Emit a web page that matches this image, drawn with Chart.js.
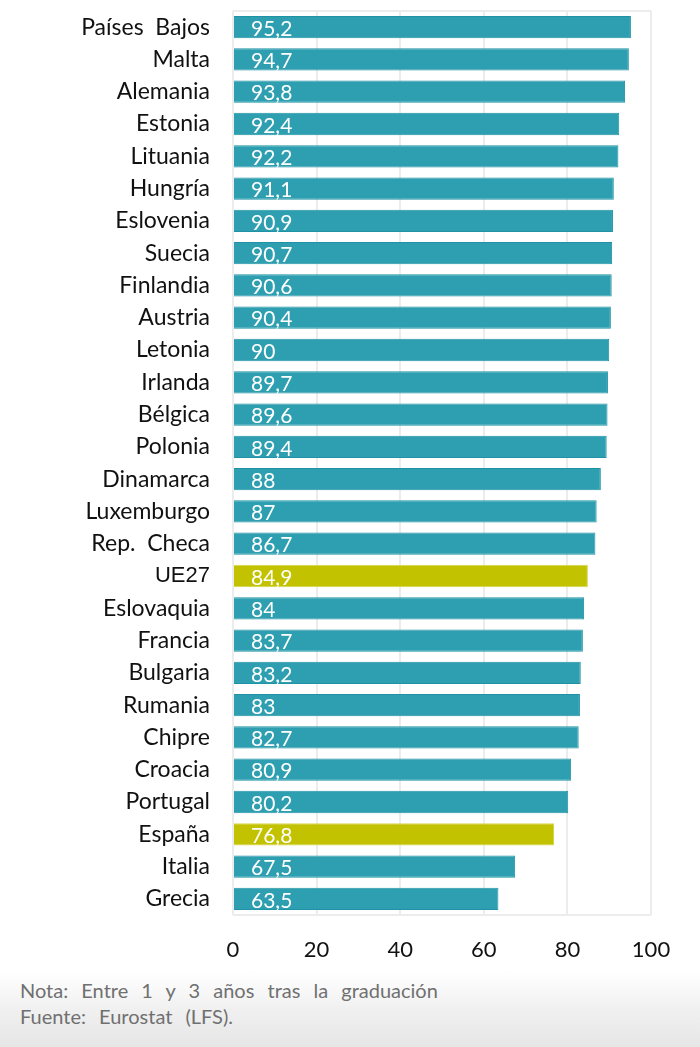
<!DOCTYPE html>
<html>
<head>
<meta charset="utf-8">
<script src="https://cdn.jsdelivr.net/npm/chart.js@4/dist/chart.umd.min.js"></script>
<style>
  html, body { margin: 0; padding: 0; width: 700px; height: 1047px; overflow: hidden;
    background: linear-gradient(to bottom, #ffffff 0px, #ffffff 972px, #f0f0f0 1010px, #e6e6e6 1047px); }
  #wrap { position: absolute; left: 0; top: 0; width: 700px; height: 972px; background: #fff; }
  #foot { position: absolute; left: 20px; top: 977px; font-family: "Lato", "Open Sans", sans-serif;
    font-size: 20px; line-height: 26px; color: #707070; word-spacing: 8px; }
</style>
</head>
<body>
<div id="wrap"><canvas id="c"></canvas></div>
<div id="foot">Nota: Entre 1 y 3 años tras la graduación<br>Fuente: Eurostat (LFS).</div>
<script>
const categories = ["Países  Bajos","Malta","Alemania","Estonia","Lituania","Hungría","Eslovenia","Suecia","Finlandia","Austria","Letonia","Irlanda","Bélgica","Polonia","Dinamarca","Luxemburgo","Rep.  Checa","UE27","Eslovaquia","Francia","Bulgaria","Rumania","Chipre","Croacia","Portugal","España","Italia","Grecia"];
const values = [95.2,94.7,93.8,92.4,92.2,91.1,90.9,90.7,90.6,90.4,90,89.7,89.6,89.4,88,87,86.7,84.9,84,83.7,83.2,83,82.7,80.9,80.2,76.8,67.5,63.5];
const highlighted = ["UE27","España"];
const xTicks = [0,20,40,60,80,100];

const fills = categories.map(c => highlighted.includes(c) ? "#c2c200" : "#2e9fb0");
const borders = categories.map(c => highlighted.includes(c) ? "#d6d64a" : "#1f93a5");

const valueLabels = {
  id: "valueLabels",
  afterDatasetsDraw(chart) {
    const ctx = chart.ctx;
    const meta = chart.getDatasetMeta(0);
    ctx.save();
    ctx.fillStyle = "#ffffff";
    ctx.font = "21px Lato, 'Open Sans', sans-serif";
    ctx.textAlign = "left";
    ctx.textBaseline = "middle";
    meta.data.forEach((bar, i) => {
      const txt = String(values[i]).replace(".", ",");
      ctx.fillText(txt, bar.base + 17, bar.y + 2);
    });
    ctx.restore();
  }
};
const frame = {
  id: "frame",
  beforeDatasetsDraw(chart) {
    const a = chart.chartArea, ctx = chart.ctx;
    ctx.save();
    ctx.strokeStyle = "#ececec";
    ctx.lineWidth = 2;
    ctx.beginPath();
    ctx.moveTo(a.left, a.top); ctx.lineTo(a.right, a.top);
    ctx.moveTo(a.left, a.bottom); ctx.lineTo(a.right, a.bottom);
    ctx.stroke();
    ctx.restore();
  }
};

new Chart(document.getElementById("c"), {
  type: "bar",
  data: {
    labels: categories,
    datasets: [{
      data: values,
      backgroundColor: fills,
      borderColor: borders,
      borderWidth: 1,
      barPercentage: 0.69,
      categoryPercentage: 1.0
    }]
  },
  options: {
    indexAxis: "y",
    responsive: true,
    maintainAspectRatio: false,
    animation: false,
    layout: { padding: { top: 11, right: 49, left: 0, bottom: 0 } },
    plugins: { legend: { display: false }, tooltip: { enabled: false } },
    scales: {
      x: {
        min: 0, max: 100,
        afterBuildTicks(s) { s.ticks = xTicks.map(v => ({ value: v })); },
        afterFit(s) { s.height = 57; s.paddingLeft = 0; s.paddingRight = 0; },
        grid: { color: "#ececec", lineWidth: 2, drawTicks: false },
        border: { display: false },
        ticks: { color: "#111", font: { family: "Lato, 'Open Sans', sans-serif", size: 22 }, padding: 22 }
      },
      y: {
        afterFit(s) { s.width = 233; s.paddingTop = 0; s.paddingBottom = 0; },
        grid: { display: false },
        border: { display: false },
        ticks: {
          autoSkip: false,
          padding: 15,
          color: "#111",
          font: (ctx) => ctx.index === categories.indexOf("UE27")
            ? { family: "'Liberation Sans', Arial, sans-serif", size: 22 }
            : { family: "Lato, 'Open Sans', sans-serif", size: 23 }
        }
      }
    }
  },
  plugins: [frame, valueLabels]
});
</script>
</body>
</html>
